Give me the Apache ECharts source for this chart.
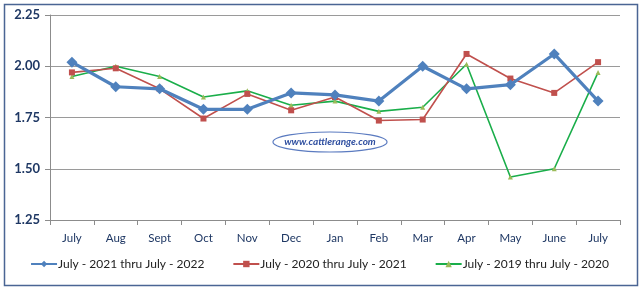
<!DOCTYPE html>
<html><head><meta charset="utf-8">
<script src="https://cdn.jsdelivr.net/npm/echarts@6/dist/echarts.min.js"></script>
<style>html,body{margin:0;padding:0;background:#fff}#c{width:639px;height:288px}</style>
</head><body><div id="c"></div>
<script>
const categories = ['July','Aug','Sept','Oct','Nov','Dec','Jan','Feb','Mar','Apr','May','June','July'];
const yTicks = ['1.25','1.50','1.75','2.00','2.25'];
const seriesNames = ['July - 2021 thru July - 2022','July - 2020 thru July - 2021','July - 2019 thru July - 2020'];
const y2122 = [2.02,1.90,1.89,1.79,1.79,1.87,1.86,1.83,2.00,1.89,1.91,2.06,1.83];
const y2021 = [1.97,1.99,1.89,1.745,1.865,1.785,1.85,1.735,1.74,2.06,1.94,1.87,2.02];
const y1920 = [1.95,2.00,1.95,1.85,1.88,1.81,1.83,1.78,1.80,2.01,1.46,1.50,1.97];

const chart = echarts.init(document.getElementById('c'), null, {renderer:'canvas'});
const font = 'Lato, "Liberation Sans", sans-serif';
chart.setOption({
  animation:false,
  backgroundColor:'#fff',
  textStyle:{fontFamily:font},
  grid:{left:50,right:19,top:15,bottom:68,containLabel:false},
  legend:{
    bottom:13, left:'center',
    itemWidth:26, itemHeight:8, itemGap:28,
    textStyle:{fontSize:12,color:'#222',fontFamily:font,padding:[0,0,0,-4]},
    data:seriesNames
  },
  xAxis:{
    type:'category', data:categories, boundaryGap:true,
    axisLine:{lineStyle:{color:'#8c8c8c',width:1}},
    axisTick:{show:true,alignWithLabel:false,length:5,lineStyle:{color:'#8c8c8c'}},
    axisLabel:{color:'#1f3864',fontSize:11.5,margin:12,fontFamily:font}
  },
  yAxis:{
    type:'value', min:1.25, max:2.25, interval:0.25,
    axisLine:{show:true,lineStyle:{color:'#8c8c8c',width:1}},
    axisTick:{show:true,length:5,inside:false,lineStyle:{color:'#8c8c8c'}},
    splitLine:{lineStyle:{color:'#9a9a9a',width:1}},
    axisLabel:{color:'#1f3864',fontSize:13,fontWeight:'bold',margin:10,fontFamily:font,
      formatter:(v)=>v.toFixed(2)}
  },
  graphic:[
    {type:'rect',left:2,top:2,shape:{width:633,height:281},style:{fill:'none',stroke:'#4a6594',lineWidth:1.5},silent:true,z:-1},
    {type:'ellipse',shape:{cx:330,cy:142,rx:57,ry:10},style:{fill:'#fff',stroke:'#5b7bc0',lineWidth:1.2},z:1},
    {type:'text',x:330,y:142,style:{text:'www.cattlerange.com',fill:'#2f4fa0',font:'italic bold 10px '+font,textAlign:'center',textVerticalAlign:'middle'},z:2}
  ],
  series:[
    {name:seriesNames[2],type:'line',data:y1920,z:3,
      lineStyle:{color:'#1aae4a',width:1.6},itemStyle:{color:'#9bbb59'},
      symbol:'triangle',symbolSize:5,showAllSymbol:true},
    {name:seriesNames[1],type:'line',data:y2021,z:4,
      lineStyle:{color:'#c0504d',width:1.6},itemStyle:{color:'#c0504d'},
      symbol:'rect',symbolSize:6,showAllSymbol:true},
    {name:seriesNames[0],type:'line',data:y2122,z:5,
      lineStyle:{color:'#4f81bd',width:3.2},itemStyle:{color:'#4f81bd'},
      symbol:'diamond',symbolSize:11,showAllSymbol:true}
  ]
});
</script></body></html>
